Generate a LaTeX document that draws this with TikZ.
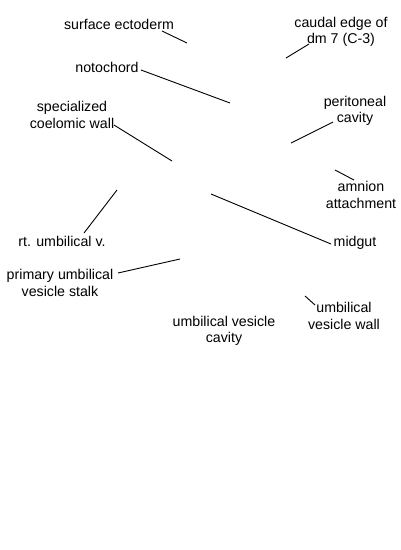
\documentclass[tikz,border=0pt]{standalone}
\usepackage{fontspec}
\setmainfont{Liberation Sans}
\begin{document}
\begin{tikzpicture}[x=1pt,y=-1pt,
  lbl/.style={inner sep=0pt,align=center,font=\fontsize{14.2}{16.5}\selectfont},
  lead/.style={line width=0.9pt}]
\useasboundingbox (0,0) rectangle (400,550);
\node[lbl] (se) at (119,24) {surface ectoderm};
\node[lbl] (ce) at (341,32) {caudal edge of\\dm 7 (C-3)};
\node[lbl] (no) at (107,67) {notochord};
\node[lbl] (sc) at (72,115) {specialized\\coelomic wall};
\node[lbl] (pc) at (355,111) {peritoneal\\cavity};
\node[lbl] (aa) at (361,195) {amnion\\attachment};
\node[lbl] (ru) at (62,241) {rt. umbilical v.};
\node[lbl] (mg) at (355,243) {midgut};
\node[lbl] (pu) at (60,283) {primary umbilical\\vesicle stalk};
\node[lbl] (uw) at (344,316) {umbilical\\vesicle wall};
\node[lbl] (uc) at (224,331) {umbilical vesicle\\cavity};
\coordinate (se1) at (162,31); \coordinate (se2) at (187,43);
\coordinate (ce1) at (309,44); \coordinate (ce2) at (286,58);
\coordinate (no1) at (141,70); \coordinate (no2) at (230,103);
\coordinate (sc1) at (114,125); \coordinate (sc2) at (172,161);
\coordinate (pc1) at (333,122); \coordinate (pc2) at (291,143);
\coordinate (aa1) at (354,180); \coordinate (aa2) at (335,170);
\coordinate (ru1) at (84,233); \coordinate (ru2) at (117,190);
\coordinate (mg1) at (331,244); \coordinate (mg2) at (211,194);
\coordinate (pu1) at (118,273); \coordinate (pu2) at (180,259);
\coordinate (uw1) at (315,305); \coordinate (uw2) at (305,296);
\draw[lead] (se1) -- (se2);
\draw[lead] (ce1) -- (ce2);
\draw[lead] (no1) -- (no2);
\draw[lead] (sc1) -- (sc2);
\draw[lead] (pc1) -- (pc2);
\draw[lead] (aa1) -- (aa2);
\draw[lead] (ru1) -- (ru2);
\draw[lead] (mg1) -- (mg2);
\draw[lead] (pu1) -- (pu2);
\draw[lead] (uw1) -- (uw2);
\end{tikzpicture}
\end{document}
